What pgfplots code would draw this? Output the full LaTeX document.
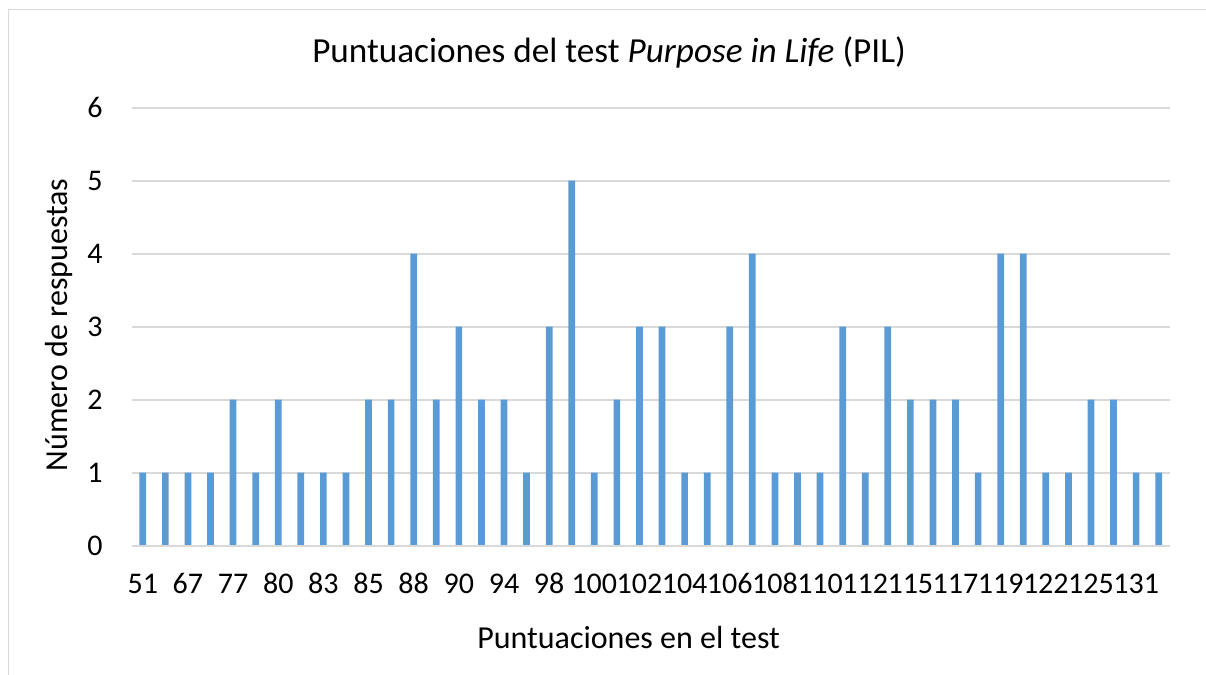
\documentclass[border=0pt]{standalone}
\usepackage{pgfplots}
\pgfplotsset{compat=1.18}
\usepackage{fontspec}
\setmainfont{Carlito}
\definecolor{barblue}{HTML}{5B9BD5}
\definecolor{gridgray}{HTML}{D9D9D9}
\begin{document}
\begin{tikzpicture}
\begin{axis}[
  at={(65.75pt,64.65pt)}, anchor=south west,
  scale only axis, width=519.25pt, height=219pt,
  xmin=-0.5, xmax=45.5, ymin=0, ymax=6,
  ytick={0,1,...,6},
  xtick={0,2,...,44},
  xticklabels={51,67,77,80,83,85,88,90,94,98,100,102,104,106,108,110,112,115,117,119,122,125,131},
  axis line style={draw=none},
  major tick length=0pt,
  ymajorgrids, grid style={gridgray, line width=0.9pt},
  /pgf/number format/assume math mode=true,
  tick label style={font=\fontsize{15}{17}\selectfont, inner sep=0pt},
  xticklabel style={anchor=base, yshift=-24.15pt},
  yticklabel style={anchor=east, xshift=-14.25pt},
  clip=false,
]
\addplot[ybar, bar width=3.35pt, bar shift=0pt, fill=barblue, draw=none] coordinates {
(0,1)(1,1)(2,1)(3,1)(4,2)(5,1)(6,2)(7,1)(8,1)(9,1)
(10,2)(11,2)(12,4)(13,2)(14,3)(15,2)(16,2)(17,1)(18,3)(19,5)
(20,1)(21,2)(22,3)(23,3)(24,1)(25,1)(26,3)(27,4)(28,1)(29,1)
(30,1)(31,3)(32,1)(33,3)(34,2)(35,2)(36,2)(37,1)(38,4)(39,4)
(40,1)(41,1)(42,2)(43,2)(44,1)(45,1)};
\draw[gridgray, line width=0.9pt] (axis cs:-0.5,0) -- (axis cs:45.5,0);
\end{axis}
\node[anchor=base, font=\fontsize{17.6}{20}\selectfont, inner sep=0pt] at (304.5pt,306.2pt) {Puntuaciones del test \textit{Purpose in Life} (PIL)};
\node[anchor=base, font=\fontsize{16}{19}\selectfont, inner sep=0pt] at (314.3pt,13.4pt) {Puntuaciones en el test};
\node[anchor=base, rotate=90, font=\fontsize{16}{19}\selectfont, inner sep=0pt] at (34pt,175pt) {Número de respuestas};
\draw[gridgray, line width=0.75pt] (4.15pt,-5pt) -- (4.15pt,332.85pt) -- (610pt,332.85pt);
\pgfresetboundingbox
\useasboundingbox (0,0) rectangle (603pt,337.5pt);
\end{tikzpicture}
\end{document}
